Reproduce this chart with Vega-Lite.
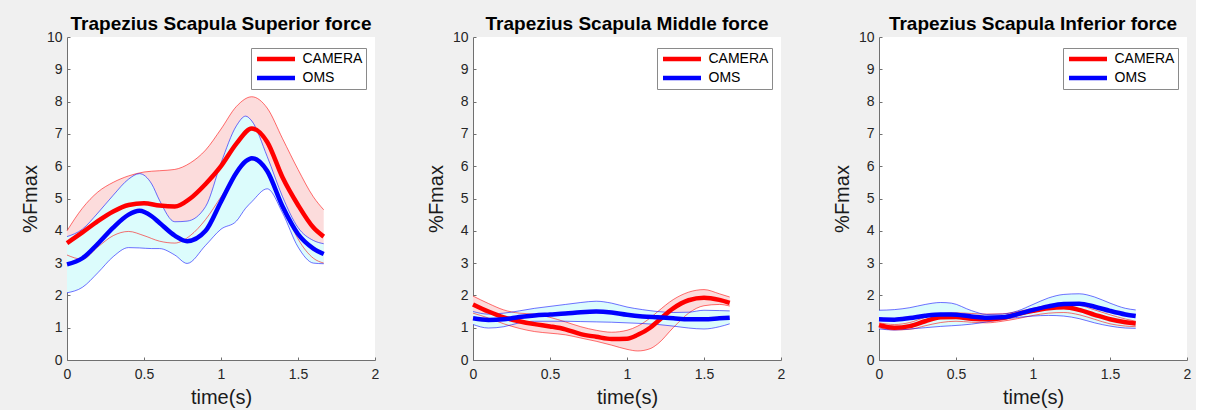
{
  "$schema": "https://vega.github.io/schema/vega-lite/v6.json",
  "background": "#f0f0f0",
  "padding": {"left": 20, "top": 15, "right": 5, "bottom": 5},
  "config": {
    "font": "Liberation Sans",
    "view": {"fill": "white", "stroke": null},
    "axis": {"grid": false, "domainColor": "#707070", "tickColor": "#707070", "tickSize": -3, "labelColor": "#262626", "labelFontSize": 14, "titleFontSize": 20, "titleFontWeight": "normal", "titleColor": "#1a1a1a", "labelFlush": false, "labelOverlap": false},
    "title": {"fontSize": 19, "fontWeight": "bold", "color": "#000000", "anchor": "middle", "frame": "group", "baseline": "alphabetic", "offset": -4},
    "legend": {"title": null, "orient": "none", "legendX": 184, "legendY": 11, "symbolType": "stroke", "symbolSize": 1444, "symbolStrokeWidth": 4.5, "labelFontSize": 14, "labelColor": "#000000", "strokeColor": "#8a8a8a", "fillColor": "white", "padding": 3.5, "clipHeight": 15, "rowPadding": 4, "labelOffset": 5}
  },
  "datasets": {
    "sup": [
      {"s": "CAMERA", "t": 0, "m": 3.62, "lo": 3.25, "hi": 4.0},
      {"s": "CAMERA", "t": 0.1, "m": 3.95, "lo": 3.12, "hi": 4.7},
      {"s": "CAMERA", "t": 0.2, "m": 4.3, "lo": 3.5, "hi": 5.2},
      {"s": "CAMERA", "t": 0.3, "m": 4.6, "lo": 3.85, "hi": 5.5},
      {"s": "CAMERA", "t": 0.4, "m": 4.8, "lo": 3.98, "hi": 5.7},
      {"s": "CAMERA", "t": 0.5, "m": 4.85, "lo": 3.85, "hi": 5.82},
      {"s": "CAMERA", "t": 0.6, "m": 4.78, "lo": 3.68, "hi": 5.86},
      {"s": "CAMERA", "t": 0.7, "m": 4.75, "lo": 3.62, "hi": 5.9},
      {"s": "CAMERA", "t": 0.8, "m": 5.0, "lo": 3.85, "hi": 6.1},
      {"s": "CAMERA", "t": 0.9, "m": 5.45, "lo": 4.35, "hi": 6.5},
      {"s": "CAMERA", "t": 1.0, "m": 6.0, "lo": 5.05, "hi": 7.15},
      {"s": "CAMERA", "t": 1.1, "m": 6.7, "lo": 5.75, "hi": 7.85},
      {"s": "CAMERA", "t": 1.2, "m": 7.17, "lo": 6.2, "hi": 8.15},
      {"s": "CAMERA", "t": 1.3, "m": 6.75, "lo": 5.8, "hi": 7.8},
      {"s": "CAMERA", "t": 1.4, "m": 5.65, "lo": 4.8, "hi": 6.85},
      {"s": "CAMERA", "t": 1.5, "m": 4.8, "lo": 3.75, "hi": 5.9},
      {"s": "CAMERA", "t": 1.6, "m": 4.1, "lo": 3.15, "hi": 5.05},
      {"s": "CAMERA", "t": 1.667, "m": 3.82, "lo": 3.0, "hi": 4.65},
      {"s": "OMS", "t": 0, "m": 2.96, "lo": 2.08, "hi": 3.82},
      {"s": "OMS", "t": 0.1, "m": 3.15, "lo": 2.25, "hi": 4.05},
      {"s": "OMS", "t": 0.2, "m": 3.6, "lo": 2.7, "hi": 4.55},
      {"s": "OMS", "t": 0.3, "m": 4.1, "lo": 3.2, "hi": 5.1},
      {"s": "OMS", "t": 0.4, "m": 4.5, "lo": 3.48, "hi": 5.6},
      {"s": "OMS", "t": 0.47, "m": 4.62, "lo": 3.47, "hi": 5.77},
      {"s": "OMS", "t": 0.55, "m": 4.45, "lo": 3.45, "hi": 5.45},
      {"s": "OMS", "t": 0.6, "m": 4.25, "lo": 3.45, "hi": 4.95},
      {"s": "OMS", "t": 0.7, "m": 3.85, "lo": 3.25, "hi": 4.28},
      {"s": "OMS", "t": 0.78, "m": 3.68, "lo": 2.99, "hi": 4.3},
      {"s": "OMS", "t": 0.9, "m": 4.0, "lo": 3.55, "hi": 4.75},
      {"s": "OMS", "t": 1.0, "m": 4.9, "lo": 4.05, "hi": 6.1},
      {"s": "OMS", "t": 1.1, "m": 5.8, "lo": 4.3, "hi": 7.25},
      {"s": "OMS", "t": 1.16, "m": 6.15, "lo": 4.7, "hi": 7.55},
      {"s": "OMS", "t": 1.2, "m": 6.25, "lo": 4.9, "hi": 7.4},
      {"s": "OMS", "t": 1.3, "m": 5.85, "lo": 5.3, "hi": 6.3},
      {"s": "OMS", "t": 1.4, "m": 4.75, "lo": 4.55, "hi": 5.05},
      {"s": "OMS", "t": 1.5, "m": 3.9, "lo": 3.5, "hi": 4.1},
      {"s": "OMS", "t": 1.6, "m": 3.45, "lo": 3.0, "hi": 3.7},
      {"s": "OMS", "t": 1.667, "m": 3.28, "lo": 2.98, "hi": 3.6}
    ],
    "mid": [
      {"s": "CAMERA", "t": 0, "m": 1.72, "lo": 1.45, "hi": 1.98},
      {"s": "CAMERA", "t": 0.1, "m": 1.5, "lo": 1.3, "hi": 1.75},
      {"s": "CAMERA", "t": 0.2, "m": 1.32, "lo": 1.12, "hi": 1.55},
      {"s": "CAMERA", "t": 0.3, "m": 1.2, "lo": 0.98, "hi": 1.45},
      {"s": "CAMERA", "t": 0.4, "m": 1.11, "lo": 0.88, "hi": 1.42},
      {"s": "CAMERA", "t": 0.5, "m": 1.04, "lo": 0.83, "hi": 1.32},
      {"s": "CAMERA", "t": 0.6, "m": 0.95, "lo": 0.78, "hi": 1.18},
      {"s": "CAMERA", "t": 0.7, "m": 0.8, "lo": 0.68, "hi": 1.03},
      {"s": "CAMERA", "t": 0.8, "m": 0.72, "lo": 0.58, "hi": 0.92},
      {"s": "CAMERA", "t": 0.9, "m": 0.65, "lo": 0.46, "hi": 0.86},
      {"s": "CAMERA", "t": 1.0, "m": 0.66, "lo": 0.33, "hi": 0.92},
      {"s": "CAMERA", "t": 1.07, "m": 0.78, "lo": 0.28, "hi": 1.05},
      {"s": "CAMERA", "t": 1.15, "m": 1.0, "lo": 0.35, "hi": 1.3},
      {"s": "CAMERA", "t": 1.2, "m": 1.2, "lo": 0.5, "hi": 1.5},
      {"s": "CAMERA", "t": 1.3, "m": 1.6, "lo": 1.0, "hi": 1.87},
      {"s": "CAMERA", "t": 1.4, "m": 1.85, "lo": 1.45, "hi": 2.1},
      {"s": "CAMERA", "t": 1.5, "m": 1.93, "lo": 1.68, "hi": 2.18},
      {"s": "CAMERA", "t": 1.6, "m": 1.86, "lo": 1.72, "hi": 2.05},
      {"s": "CAMERA", "t": 1.667, "m": 1.77, "lo": 1.67, "hi": 1.95},
      {"s": "OMS", "t": 0, "m": 1.29, "lo": 1.1, "hi": 1.5},
      {"s": "OMS", "t": 0.1, "m": 1.24, "lo": 0.99, "hi": 1.42},
      {"s": "OMS", "t": 0.2, "m": 1.26, "lo": 1.03, "hi": 1.45},
      {"s": "OMS", "t": 0.3, "m": 1.33, "lo": 1.15, "hi": 1.52},
      {"s": "OMS", "t": 0.4, "m": 1.38, "lo": 1.2, "hi": 1.6},
      {"s": "OMS", "t": 0.5, "m": 1.41, "lo": 1.2, "hi": 1.66},
      {"s": "OMS", "t": 0.6, "m": 1.44, "lo": 1.2, "hi": 1.72},
      {"s": "OMS", "t": 0.7, "m": 1.48, "lo": 1.19, "hi": 1.78},
      {"s": "OMS", "t": 0.8, "m": 1.5, "lo": 1.18, "hi": 1.82},
      {"s": "OMS", "t": 0.9, "m": 1.47, "lo": 1.17, "hi": 1.76},
      {"s": "OMS", "t": 1.0, "m": 1.4, "lo": 1.15, "hi": 1.64},
      {"s": "OMS", "t": 1.1, "m": 1.35, "lo": 1.13, "hi": 1.56},
      {"s": "OMS", "t": 1.2, "m": 1.32, "lo": 1.1, "hi": 1.5},
      {"s": "OMS", "t": 1.3, "m": 1.29, "lo": 1.05, "hi": 1.47},
      {"s": "OMS", "t": 1.4, "m": 1.26, "lo": 0.99, "hi": 1.48},
      {"s": "OMS", "t": 1.5, "m": 1.26, "lo": 0.96, "hi": 1.54},
      {"s": "OMS", "t": 1.6, "m": 1.29, "lo": 1.03, "hi": 1.53},
      {"s": "OMS", "t": 1.667, "m": 1.31, "lo": 1.12, "hi": 1.52}
    ],
    "inf": [
      {"s": "CAMERA", "t": 0, "m": 1.08, "lo": 1.0, "hi": 1.15},
      {"s": "CAMERA", "t": 0.1, "m": 1.0, "lo": 0.93, "hi": 1.1},
      {"s": "CAMERA", "t": 0.2, "m": 1.05, "lo": 0.95, "hi": 1.16},
      {"s": "CAMERA", "t": 0.3, "m": 1.2, "lo": 1.06, "hi": 1.32},
      {"s": "CAMERA", "t": 0.4, "m": 1.32, "lo": 1.16, "hi": 1.43},
      {"s": "CAMERA", "t": 0.5, "m": 1.33, "lo": 1.2, "hi": 1.46},
      {"s": "CAMERA", "t": 0.6, "m": 1.28, "lo": 1.17, "hi": 1.44},
      {"s": "CAMERA", "t": 0.7, "m": 1.26, "lo": 1.15, "hi": 1.42},
      {"s": "CAMERA", "t": 0.8, "m": 1.3, "lo": 1.2, "hi": 1.43},
      {"s": "CAMERA", "t": 0.9, "m": 1.42, "lo": 1.28, "hi": 1.5},
      {"s": "CAMERA", "t": 1.0, "m": 1.52, "lo": 1.38, "hi": 1.6},
      {"s": "CAMERA", "t": 1.1, "m": 1.6, "lo": 1.45, "hi": 1.7},
      {"s": "CAMERA", "t": 1.2, "m": 1.63, "lo": 1.47, "hi": 1.75},
      {"s": "CAMERA", "t": 1.3, "m": 1.55, "lo": 1.4, "hi": 1.7},
      {"s": "CAMERA", "t": 1.4, "m": 1.4, "lo": 1.26, "hi": 1.55},
      {"s": "CAMERA", "t": 1.5, "m": 1.26, "lo": 1.12, "hi": 1.4},
      {"s": "CAMERA", "t": 1.6, "m": 1.17, "lo": 1.05, "hi": 1.27},
      {"s": "CAMERA", "t": 1.667, "m": 1.13, "lo": 1.03, "hi": 1.2},
      {"s": "OMS", "t": 0, "m": 1.26, "lo": 0.96, "hi": 1.54},
      {"s": "OMS", "t": 0.1, "m": 1.25, "lo": 0.93, "hi": 1.56},
      {"s": "OMS", "t": 0.2, "m": 1.3, "lo": 0.96, "hi": 1.62},
      {"s": "OMS", "t": 0.3, "m": 1.37, "lo": 1.0, "hi": 1.72},
      {"s": "OMS", "t": 0.4, "m": 1.41, "lo": 1.04, "hi": 1.78},
      {"s": "OMS", "t": 0.47, "m": 1.41, "lo": 1.06, "hi": 1.76},
      {"s": "OMS", "t": 0.6, "m": 1.35, "lo": 1.11, "hi": 1.53},
      {"s": "OMS", "t": 0.7, "m": 1.31, "lo": 1.18, "hi": 1.41},
      {"s": "OMS", "t": 0.8, "m": 1.32, "lo": 1.26, "hi": 1.42},
      {"s": "OMS", "t": 0.9, "m": 1.42, "lo": 1.32, "hi": 1.52},
      {"s": "OMS", "t": 1.0, "m": 1.55, "lo": 1.36, "hi": 1.72},
      {"s": "OMS", "t": 1.1, "m": 1.66, "lo": 1.38, "hi": 1.92},
      {"s": "OMS", "t": 1.2, "m": 1.73, "lo": 1.36, "hi": 2.03},
      {"s": "OMS", "t": 1.3, "m": 1.74, "lo": 1.28, "hi": 2.05},
      {"s": "OMS", "t": 1.4, "m": 1.65, "lo": 1.15, "hi": 1.95},
      {"s": "OMS", "t": 1.5, "m": 1.52, "lo": 1.05, "hi": 1.76},
      {"s": "OMS", "t": 1.6, "m": 1.41, "lo": 0.99, "hi": 1.6},
      {"s": "OMS", "t": 1.667, "m": 1.36, "lo": 0.98, "hi": 1.55}
    ]
  },
  "hconcat": [
    {
      "width": 308, "height": 323,
      "title": "Trapezius Scapula Superior force",
      "data": {"name": "sup"},
      "encoding": {
        "x": {"field": "t", "type": "quantitative", "scale": {"domain": [0, 2]}, "axis": {"values": [0, 0.5, 1, 1.5, 2], "format": "~g", "title": "time(s)", "labelPadding": 10, "titlePadding": 6}}
      },
      "layer": [
        {"transform": [{"filter": "datum.s === 'CAMERA'"}], "mark": {"type": "area", "interpolate": "monotone", "color": "#fcdcdc"}, "encoding": {"y": {"field": "lo", "type": "quantitative", "stack": null, "scale": {"domain": [0, 10]}, "axis": {"values": [0,1,2,3,4,5,6,7,8,9,10], "title": "%Fmax", "labelPadding": 8, "titlePadding": 6}}, "y2": {"field": "hi"}}},
        {"transform": [{"filter": "datum.s === 'OMS'"}], "mark": {"type": "area", "interpolate": "monotone", "color": "#dcfcfc"}, "encoding": {"y": {"field": "lo", "type": "quantitative", "stack": null, "scale": {"domain": [0, 10]}, "axis": {"values": [0,1,2,3,4,5,6,7,8,9,10], "title": "%Fmax", "labelPadding": 8, "titlePadding": 6}}, "y2": {"field": "hi"}}},
        {"transform": [{"filter": "datum.s === 'CAMERA'"}], "mark": {"type": "line", "interpolate": "monotone", "strokeWidth": 0.7, "opacity": 0.8, "color": "#ff0000"}, "encoding": {"y": {"field": "lo", "type": "quantitative", "axis": {"values": [0,1,2,3,4,5,6,7,8,9,10], "title": "%Fmax", "labelPadding": 8, "titlePadding": 6}}}},
        {"transform": [{"filter": "datum.s === 'CAMERA'"}], "mark": {"type": "line", "interpolate": "monotone", "strokeWidth": 0.7, "opacity": 0.8, "color": "#ff0000"}, "encoding": {"y": {"field": "hi", "type": "quantitative", "axis": {"values": [0,1,2,3,4,5,6,7,8,9,10], "title": "%Fmax", "labelPadding": 8, "titlePadding": 6}}}},
        {"transform": [{"filter": "datum.s === 'OMS'"}], "mark": {"type": "line", "interpolate": "monotone", "strokeWidth": 0.7, "opacity": 0.8, "color": "#0000ff"}, "encoding": {"y": {"field": "lo", "type": "quantitative", "axis": {"values": [0,1,2,3,4,5,6,7,8,9,10], "title": "%Fmax", "labelPadding": 8, "titlePadding": 6}}}},
        {"transform": [{"filter": "datum.s === 'OMS'"}], "mark": {"type": "line", "interpolate": "monotone", "strokeWidth": 0.7, "opacity": 0.8, "color": "#0000ff"}, "encoding": {"y": {"field": "hi", "type": "quantitative", "axis": {"values": [0,1,2,3,4,5,6,7,8,9,10], "title": "%Fmax", "labelPadding": 8, "titlePadding": 6}}}},
        {"mark": {"type": "line", "interpolate": "monotone", "strokeWidth": 4.5}, "encoding": {"y": {"field": "m", "type": "quantitative", "axis": {"values": [0,1,2,3,4,5,6,7,8,9,10], "title": "%Fmax", "labelPadding": 8, "titlePadding": 6}}, "color": {"field": "s", "type": "nominal", "scale": {"domain": ["CAMERA", "OMS"], "range": ["#ff0000", "#0000ff"]}, "legend": {}}}}
      ]
    },
    {
      "width": 308, "height": 323,
      "title": "Trapezius Scapula Middle force",
      "data": {"name": "mid"},
      "encoding": {
        "x": {"field": "t", "type": "quantitative", "scale": {"domain": [0, 2]}, "axis": {"values": [0, 0.5, 1, 1.5, 2], "format": "~g", "title": "time(s)", "labelPadding": 10, "titlePadding": 6}}
      },
      "layer": [
        {"transform": [{"filter": "datum.s === 'CAMERA'"}], "mark": {"type": "area", "interpolate": "monotone", "color": "#fcdcdc"}, "encoding": {"y": {"field": "lo", "type": "quantitative", "stack": null, "scale": {"domain": [0, 10]}, "axis": {"values": [0,1,2,3,4,5,6,7,8,9,10], "title": "%Fmax", "labelPadding": 8, "titlePadding": 6}}, "y2": {"field": "hi"}}},
        {"transform": [{"filter": "datum.s === 'OMS'"}], "mark": {"type": "area", "interpolate": "monotone", "color": "#dcfcfc"}, "encoding": {"y": {"field": "lo", "type": "quantitative", "stack": null, "scale": {"domain": [0, 10]}, "axis": {"values": [0,1,2,3,4,5,6,7,8,9,10], "title": "%Fmax", "labelPadding": 8, "titlePadding": 6}}, "y2": {"field": "hi"}}},
        {"transform": [{"filter": "datum.s === 'CAMERA'"}], "mark": {"type": "line", "interpolate": "monotone", "strokeWidth": 0.7, "opacity": 0.8, "color": "#ff0000"}, "encoding": {"y": {"field": "lo", "type": "quantitative", "axis": {"values": [0,1,2,3,4,5,6,7,8,9,10], "title": "%Fmax", "labelPadding": 8, "titlePadding": 6}}}},
        {"transform": [{"filter": "datum.s === 'CAMERA'"}], "mark": {"type": "line", "interpolate": "monotone", "strokeWidth": 0.7, "opacity": 0.8, "color": "#ff0000"}, "encoding": {"y": {"field": "hi", "type": "quantitative", "axis": {"values": [0,1,2,3,4,5,6,7,8,9,10], "title": "%Fmax", "labelPadding": 8, "titlePadding": 6}}}},
        {"transform": [{"filter": "datum.s === 'OMS'"}], "mark": {"type": "line", "interpolate": "monotone", "strokeWidth": 0.7, "opacity": 0.8, "color": "#0000ff"}, "encoding": {"y": {"field": "lo", "type": "quantitative", "axis": {"values": [0,1,2,3,4,5,6,7,8,9,10], "title": "%Fmax", "labelPadding": 8, "titlePadding": 6}}}},
        {"transform": [{"filter": "datum.s === 'OMS'"}], "mark": {"type": "line", "interpolate": "monotone", "strokeWidth": 0.7, "opacity": 0.8, "color": "#0000ff"}, "encoding": {"y": {"field": "hi", "type": "quantitative", "axis": {"values": [0,1,2,3,4,5,6,7,8,9,10], "title": "%Fmax", "labelPadding": 8, "titlePadding": 6}}}},
        {"mark": {"type": "line", "interpolate": "monotone", "strokeWidth": 4.5}, "encoding": {"y": {"field": "m", "type": "quantitative", "axis": {"values": [0,1,2,3,4,5,6,7,8,9,10], "title": "%Fmax", "labelPadding": 8, "titlePadding": 6}}, "color": {"field": "s", "type": "nominal", "scale": {"domain": ["CAMERA", "OMS"], "range": ["#ff0000", "#0000ff"]}, "legend": {}}}}
      ]
    },
    {
      "width": 308, "height": 323,
      "title": "Trapezius Scapula Inferior force",
      "data": {"name": "inf"},
      "encoding": {
        "x": {"field": "t", "type": "quantitative", "scale": {"domain": [0, 2]}, "axis": {"values": [0, 0.5, 1, 1.5, 2], "format": "~g", "title": "time(s)", "labelPadding": 10, "titlePadding": 6}}
      },
      "layer": [
        {"transform": [{"filter": "datum.s === 'CAMERA'"}], "mark": {"type": "area", "interpolate": "monotone", "color": "#fcdcdc"}, "encoding": {"y": {"field": "lo", "type": "quantitative", "stack": null, "scale": {"domain": [0, 10]}, "axis": {"values": [0,1,2,3,4,5,6,7,8,9,10], "title": "%Fmax", "labelPadding": 8, "titlePadding": 6}}, "y2": {"field": "hi"}}},
        {"transform": [{"filter": "datum.s === 'OMS'"}], "mark": {"type": "area", "interpolate": "monotone", "color": "#dcfcfc"}, "encoding": {"y": {"field": "lo", "type": "quantitative", "stack": null, "scale": {"domain": [0, 10]}, "axis": {"values": [0,1,2,3,4,5,6,7,8,9,10], "title": "%Fmax", "labelPadding": 8, "titlePadding": 6}}, "y2": {"field": "hi"}}},
        {"transform": [{"filter": "datum.s === 'CAMERA'"}], "mark": {"type": "line", "interpolate": "monotone", "strokeWidth": 0.7, "opacity": 0.8, "color": "#ff0000"}, "encoding": {"y": {"field": "lo", "type": "quantitative", "axis": {"values": [0,1,2,3,4,5,6,7,8,9,10], "title": "%Fmax", "labelPadding": 8, "titlePadding": 6}}}},
        {"transform": [{"filter": "datum.s === 'CAMERA'"}], "mark": {"type": "line", "interpolate": "monotone", "strokeWidth": 0.7, "opacity": 0.8, "color": "#ff0000"}, "encoding": {"y": {"field": "hi", "type": "quantitative", "axis": {"values": [0,1,2,3,4,5,6,7,8,9,10], "title": "%Fmax", "labelPadding": 8, "titlePadding": 6}}}},
        {"transform": [{"filter": "datum.s === 'OMS'"}], "mark": {"type": "line", "interpolate": "monotone", "strokeWidth": 0.7, "opacity": 0.8, "color": "#0000ff"}, "encoding": {"y": {"field": "lo", "type": "quantitative", "axis": {"values": [0,1,2,3,4,5,6,7,8,9,10], "title": "%Fmax", "labelPadding": 8, "titlePadding": 6}}}},
        {"transform": [{"filter": "datum.s === 'OMS'"}], "mark": {"type": "line", "interpolate": "monotone", "strokeWidth": 0.7, "opacity": 0.8, "color": "#0000ff"}, "encoding": {"y": {"field": "hi", "type": "quantitative", "axis": {"values": [0,1,2,3,4,5,6,7,8,9,10], "title": "%Fmax", "labelPadding": 8, "titlePadding": 6}}}},
        {"mark": {"type": "line", "interpolate": "monotone", "strokeWidth": 4.5}, "encoding": {"y": {"field": "m", "type": "quantitative", "axis": {"values": [0,1,2,3,4,5,6,7,8,9,10], "title": "%Fmax", "labelPadding": 8, "titlePadding": 6}}, "color": {"field": "s", "type": "nominal", "scale": {"domain": ["CAMERA", "OMS"], "range": ["#ff0000", "#0000ff"]}, "legend": {}}}}
      ]
    }
  ],
  "spacing": 98,
  "bounds": "flush",
  "resolve": {"scale": {"color": "independent", "x": "independent", "y": "independent"}, "legend": {"color": "independent"}, "axis": {"x": "independent", "y": "independent"}}
}
